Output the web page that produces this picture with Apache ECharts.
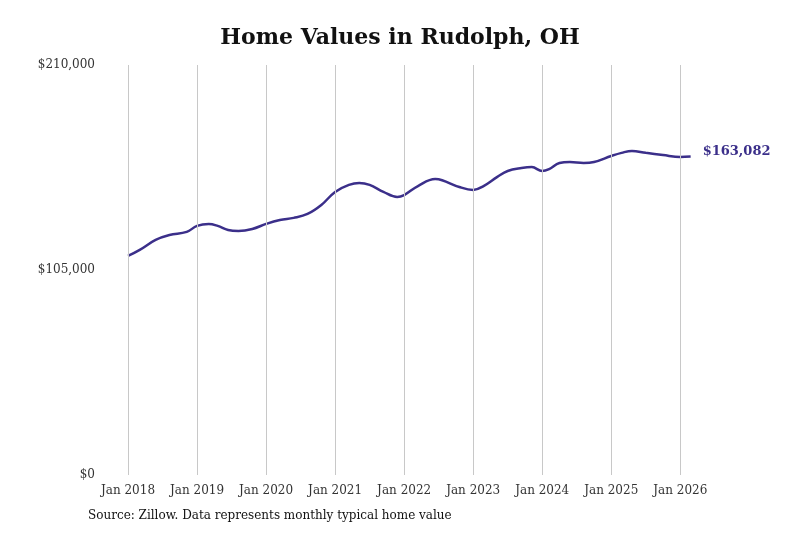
<!DOCTYPE html>
<html><head><meta charset="utf-8">
<script src="https://cdn.jsdelivr.net/npm/echarts@6/dist/echarts.min.js"></script>
<style>html,body{margin:0;padding:0;background:#fff}#c{width:800px;height:533px}</style>
</head><body><div id="c"></div>
<script>
const dates = [2018.0,2018.17,2018.4,2018.6,2018.85,2019.0,2019.17,2019.3,2019.45,2019.6,2019.8,2020.0,2020.2,2020.4,2020.6,2020.8,2021.0,2021.2,2021.35,2021.5,2021.7,2021.9,2022.0,2022.2,2022.45,2022.55,2022.8,2023.0,2023.15,2023.35,2023.5,2023.7,2023.85,2024.0,2024.1,2024.25,2024.4,2024.6,2024.75,2025.0,2025.15,2025.3,2025.5,2025.75,2026.0,2026.15];
const values = [112200,115300,120400,122900,124500,127600,128600,127600,125500,125000,126000,128600,130600,131700,133700,138300,145000,148600,149600,148600,145000,142400,143400,148000,151600,151000,147500,146000,148000,152700,155700,157200,157700,155700,156700,159800,160300,159800,160300,163400,165000,166000,165000,163900,162900,163082];
const yearTicks = [2018,2019,2020,2021,2022,2023,2024,2025,2026];
const font = 'DejaVu Serif';
const chart = echarts.init(document.getElementById('c'));
chart.setOption({
  animation:false,
  title:{text:'Home Values in Rudolph, OH',left:'center',top:22,textStyle:{fontFamily:font,fontWeight:'bold',fontSize:22,color:'#111'}},
  graphic:[{type:'text',left:88,top:510,style:{text:'Source: Zillow. Data represents monthly typical home value',font:'12px "DejaVu Serif"',fill:'#111'}}],
  grid:{left:128,right:99,top:65,bottom:58},
  xAxis:{type:'value',min:2018,max:2026.3,interval:1,
    axisLine:{show:false},axisTick:{show:false},splitLine:{show:false},
    axisLabel:{fontFamily:font,fontSize:12,color:'#333',margin:10,
      formatter:v=>Number.isInteger(v)?'Jan '+v:''}},
  yAxis:{type:'value',min:0,max:210000,interval:105000,
    axisLine:{show:false},axisTick:{show:false},splitLine:{show:false},
    axisLabel:{fontFamily:font,fontSize:12,color:'#333',margin:33,
      formatter:v=>'$'+v.toLocaleString('en-US')}},
  series:[{type:'line',data:dates.map((d,i)=>[d,values[i]]),smooth:0.4,showSymbol:false,
    lineStyle:{color:'#3b2f8a',width:2.5},z:3,
    markLine:{silent:true,symbol:'none',label:{show:false},lineStyle:{color:'#c8c8c8',type:'solid',width:1},
      data:yearTicks.map(y=>({xAxis:y}))},
    endLabel:{show:true,formatter:p=>'$'+p.value[1].toLocaleString('en-US'),offset:[0,-5],
      fontFamily:font,fontWeight:'bold',fontSize:13,color:'#3b2f8a',distance:12}}]
});
</script></body></html>
